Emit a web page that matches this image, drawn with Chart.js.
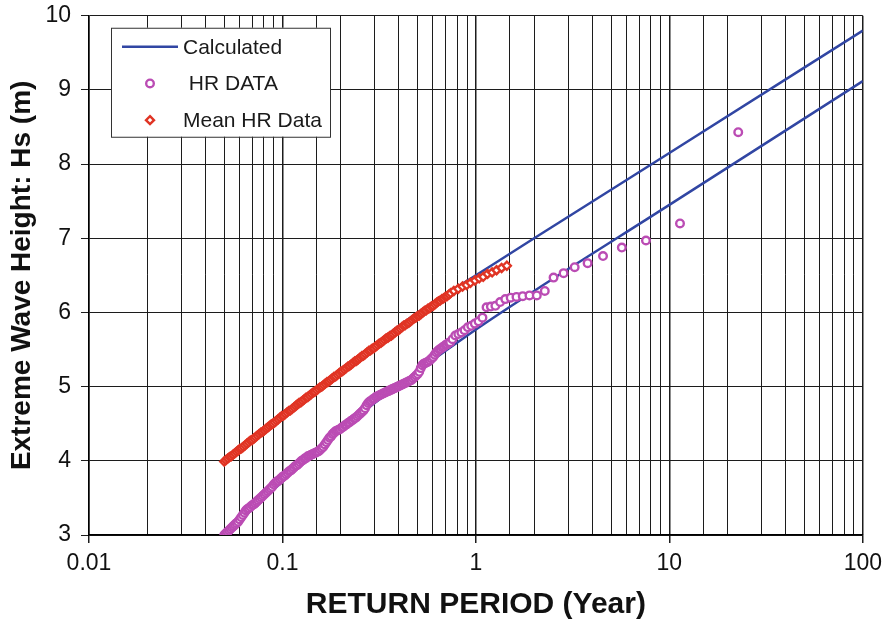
<!DOCTYPE html>
<html>
<head>
<meta charset="utf-8">
<script src="https://cdn.jsdelivr.net/npm/chart.js@4/dist/chart.umd.min.js"></script>
<style>
  html, body { margin: 0; padding: 0; background: #fff; }
  #wrap { width: 889px; height: 623px; }
</style>
</head>
<body>
<div id="wrap"><canvas id="grafico" width="889" height="623"></canvas></div>
<script>
// Etiquetas del eje X (solo décadas)
const xTickLabels = ["0.01", "0.1", "1", "10", "100"];

// Curvas calculadas (periodo de retorno en años, altura en m)
const calcPeriod = [0.05, 0.1, 0.2, 0.5, 1, 2, 10, 100];
const calcUpper  = [4.00, 4.60, 5.22, 6.00, 6.50, 7.00, 8.15, 9.80];
const calcLower  = [3.00, 3.72, 4.42, 5.21, 5.77, 6.29, 7.45, 9.12];

// HR DATA (círculos)
const hrPeriod = [
  0.0500, 0.0509, 0.0519, 0.0529, 0.0538, 0.0548, 0.0558, 0.0568, 0.0579, 0.0590,
  0.0601, 0.0612, 0.0624, 0.0636, 0.0647, 0.0659, 0.0671, 0.0683, 0.0697, 0.0710,
  0.0723, 0.0736, 0.0750, 0.0764, 0.0778, 0.0792, 0.0807, 0.0822, 0.0838, 0.0854,
  0.0869, 0.0885, 0.0902, 0.0919, 0.0935, 0.0952, 0.0971, 0.0989, 0.1007, 0.1026,
  0.1045, 0.1064, 0.1084, 0.1104, 0.1125, 0.1146, 0.1167, 0.1189, 0.1211, 0.1234,
  0.1256, 0.1279, 0.1303, 0.1327, 0.1352, 0.1377, 0.1403, 0.1429, 0.1455, 0.1482,
  0.1510, 0.1538, 0.1567, 0.1596, 0.1626, 0.1656, 0.1687, 0.1718, 0.1750, 0.1783,
  0.1816, 0.1850, 0.1884, 0.1919, 0.1954, 0.1990, 0.2028, 0.2066, 0.2104, 0.2143,
  0.2183, 0.2224, 0.2265, 0.2307, 0.2350, 0.2394, 0.2438, 0.2483, 0.2529, 0.2576,
  0.2624, 0.2673, 0.2723, 0.2774, 0.2825, 0.2878, 0.2931, 0.2986, 0.3041, 0.3098,
  0.3155, 0.3214, 0.3273, 0.3334, 0.3396, 0.3459, 0.3524, 0.3590, 0.3656, 0.3724,
  0.3793, 0.3864, 0.3936, 0.4009, 0.4083, 0.4159, 0.4236, 0.4315, 0.4395, 0.4477,
  0.4560, 0.4645, 0.4732, 0.4820, 0.4909, 0.5000, 0.5093, 0.5188, 0.5284, 0.5382,
  0.5483, 0.5585, 0.5689, 0.5795, 0.5902, 0.6012, 0.6124, 0.6238, 0.6353, 0.6471,
  0.6592, 0.6715, 0.6839, 0.6966, 0.7096, 0.7228, 0.7362,
  0.757, 0.783, 0.811, 0.841, 0.873, 0.908, 0.946, 0.987, 1.032, 1.081,
  1.135, 1.195, 1.261, 1.335, 1.419, 1.513, 1.621, 1.746, 1.892, 2.064,
  2.27, 2.52, 2.84, 3.24, 3.78, 4.54, 5.68, 7.57, 11.35, 22.7
];
const hrHeight = [
  3.00, 3.02, 3.04, 3.06, 3.08, 3.10, 3.12, 3.14, 3.16, 3.18,
  3.21, 3.24, 3.27, 3.30, 3.33, 3.35, 3.36, 3.38, 3.40, 3.41,
  3.43, 3.45, 3.47, 3.49, 3.51, 3.53, 3.55, 3.57, 3.59, 3.61,
  3.63, 3.65, 3.68, 3.70, 3.72, 3.73, 3.75, 3.77, 3.79, 3.80,
  3.82, 3.84, 3.86, 3.87, 3.89, 3.91, 3.93, 3.94, 3.96, 3.98,
  4.00, 4.01, 4.03, 4.04, 4.06, 4.07, 4.08, 4.09, 4.10, 4.11,
  4.12, 4.13, 4.15, 4.17, 4.19, 4.22, 4.25, 4.28, 4.31, 4.33,
  4.36, 4.38, 4.40, 4.41, 4.42, 4.43, 4.45, 4.46, 4.48, 4.49,
  4.51, 4.52, 4.54, 4.55, 4.57, 4.58, 4.60, 4.62, 4.64, 4.66,
  4.68, 4.71, 4.75, 4.78, 4.80, 4.81, 4.83, 4.84, 4.86, 4.87,
  4.88, 4.89, 4.90, 4.91, 4.92, 4.93, 4.94, 4.95, 4.96, 4.97,
  4.98, 4.99, 5.00, 5.01, 5.02, 5.03, 5.04, 5.05, 5.06, 5.07,
  5.08, 5.09, 5.11, 5.13, 5.15, 5.17, 5.20, 5.25, 5.29, 5.31,
  5.32, 5.33, 5.34, 5.36, 5.38, 5.40, 5.43, 5.46, 5.48, 5.50,
  5.51, 5.53, 5.54, 5.56, 5.57, 5.59, 5.60,
  5.64, 5.69, 5.71, 5.73, 5.76, 5.80, 5.82, 5.85, 5.88, 5.93,
  6.07, 6.08, 6.09, 6.14, 6.18, 6.20, 6.21, 6.22, 6.23, 6.23,
  6.29, 6.47, 6.53, 6.61, 6.665, 6.76, 6.875, 6.97, 7.20, 8.43
];

// Mean HR Data (rombos)
const meanPeriod = [
  0.0500, 0.0510, 0.0521, 0.0532, 0.0543, 0.0554, 0.0566, 0.0578, 0.0590, 0.0602,
  0.0615, 0.0628, 0.0641, 0.0654, 0.0668, 0.0682, 0.0697, 0.0712, 0.0726, 0.0741,
  0.0757, 0.0773, 0.0789, 0.0805, 0.0822, 0.0839, 0.0857, 0.0875, 0.0893, 0.0912,
  0.0931, 0.0950, 0.0970, 0.0990, 0.1012, 0.1033, 0.1054, 0.1076, 0.1099, 0.1122,
  0.1146, 0.1170, 0.1194, 0.1219, 0.1245, 0.1271, 0.1297, 0.1324, 0.1352, 0.1380,
  0.1409, 0.1438, 0.1469, 0.1500, 0.1531, 0.1563, 0.1596, 0.1629, 0.1663, 0.1698,
  0.1734, 0.1770, 0.1807, 0.1845, 0.1884, 0.1923, 0.1963, 0.2004, 0.2046, 0.2089,
  0.2133, 0.2178, 0.2223, 0.2269, 0.2317, 0.2365, 0.2415, 0.2465, 0.2518, 0.2571,
  0.2624, 0.2679, 0.2735, 0.2792, 0.2851, 0.2911, 0.2972, 0.3034, 0.3097, 0.3162,
  0.3228, 0.3295, 0.3365, 0.3435, 0.3508, 0.3581, 0.3656, 0.3732, 0.3811, 0.3891,
  0.3972, 0.4055, 0.4140, 0.4227, 0.4315, 0.4405, 0.4498, 0.4592, 0.4688, 0.4786,
  0.4887, 0.4989, 0.5093, 0.5199, 0.5309, 0.5420, 0.5534, 0.5650, 0.5768, 0.5889,
  0.6012, 0.6138, 0.6266, 0.6397, 0.6531, 0.6668, 0.6808, 0.6950, 0.7096, 0.7244,
  0.7396,
  0.7691, 0.8110, 0.8531, 0.8954, 0.9376, 0.9886, 1.040, 1.091, 1.148, 1.213,
  1.279, 1.358, 1.445
];
const meanHeight = [
  3.99, 4.01, 4.03, 4.05, 4.06, 4.08, 4.10, 4.12, 4.14, 4.16,
  4.17, 4.19, 4.21, 4.23, 4.25, 4.27, 4.28, 4.30, 4.32, 4.34,
  4.36, 4.38, 4.39, 4.41, 4.43, 4.45, 4.47, 4.49, 4.50, 4.52,
  4.54, 4.56, 4.58, 4.60, 4.61, 4.63, 4.65, 4.67, 4.68, 4.70,
  4.72, 4.74, 4.76, 4.78, 4.79, 4.81, 4.83, 4.85, 4.86, 4.88,
  4.90, 4.92, 4.93, 4.95, 4.97, 4.99, 5.00, 5.02, 5.04, 5.06,
  5.07, 5.09, 5.11, 5.13, 5.14, 5.16, 5.18, 5.20, 5.21, 5.23,
  5.25, 5.27, 5.28, 5.30, 5.32, 5.34, 5.35, 5.37, 5.39, 5.41,
  5.42, 5.44, 5.46, 5.48, 5.49, 5.51, 5.52, 5.54, 5.56, 5.58,
  5.59, 5.61, 5.63, 5.65, 5.66, 5.68, 5.69, 5.71, 5.73, 5.75,
  5.76, 5.78, 5.80, 5.82, 5.83, 5.85, 5.86, 5.88, 5.90, 5.92,
  5.93, 5.95, 5.96, 5.98, 6.00, 6.02, 6.03, 6.05, 6.06, 6.08,
  6.09, 6.11, 6.13, 6.15, 6.16, 6.18, 6.19, 6.21, 6.22, 6.24,
  6.26,
  6.29, 6.32, 6.35, 6.37, 6.40, 6.43, 6.46, 6.48, 6.52, 6.54,
  6.57, 6.60, 6.63
];

const FUENTE = "'Liberation Sans', Arial, Helvetica, sans-serif";
const AZUL = "#3146a3";
const MORADO = "#bb4cb4";
const ROJO = "#e03424";
const REJILLA = "#1c1c1c";

function aPuntos(xs, ys) {
  return xs.map((x, i) => ({ x: x, y: ys[i] }));
}

function esDecada(v) {
  const l = Math.log10(v);
  return Math.abs(l - Math.round(l)) < 1e-6;
}

// Leyenda dibujada a mano dentro del área del gráfico
const leyendaCaja = {
  id: "leyendaCaja",
  afterDatasetsDraw(chart) {
    const ctx = chart.ctx;
    const a = chart.chartArea;
    const x0 = a.left + 22, y0 = a.top + 12, w = 219, h = 109;
    ctx.save();
    ctx.fillStyle = "#fff";
    ctx.fillRect(x0, y0, w, h);
    ctx.strokeStyle = "#333";
    ctx.lineWidth = 1;
    ctx.strokeRect(x0 + 0.5, y0 + 0.5, w, h);

    const vistos = [];
    chart.data.datasets.forEach(ds => {
      if (!vistos.find(d => d.label === ds.label)) vistos.push(ds);
    });
    const orden = ["Calculated", " HR DATA", "Mean HR Data"];
    ctx.font = "21px " + FUENTE;
    ctx.textBaseline = "middle";
    orden.forEach((lab, i) => {
      const ds = vistos.find(d => d.label === lab);
      const yy = y0 + 19 + i * 36.7;
      if (ds.showLine) {
        ctx.strokeStyle = ds.borderColor;
        ctx.lineWidth = ds.borderWidth;
        ctx.beginPath();
        ctx.moveTo(x0 + 11, yy);
        ctx.lineTo(x0 + 67, yy);
        ctx.stroke();
      } else {
        ctx.strokeStyle = ds.borderColor;
        ctx.fillStyle = "#fff";
        ctx.lineWidth = ds.pointBorderWidth;
        ctx.beginPath();
        if (ds.pointStyle === "rectRot") {
          const r = ds.pointRadius;
          ctx.moveTo(x0 + 39, yy - r);
          ctx.lineTo(x0 + 39 + r, yy);
          ctx.lineTo(x0 + 39, yy + r);
          ctx.lineTo(x0 + 39 - r, yy);
          ctx.closePath();
        } else {
          ctx.arc(x0 + 39, yy, ds.pointRadius, 0, Math.PI * 2);
        }
        ctx.fill();
        ctx.stroke();
      }
      ctx.fillStyle = "#1a1a1a";
      ctx.fillText(lab, x0 + 72, yy + 1);
    });
    ctx.restore();
  }
};

const ctx = document.getElementById("grafico").getContext("2d");

new Chart(ctx, {
  type: "scatter",
  data: {
    datasets: [
      {
        label: " HR DATA",
        data: aPuntos(hrPeriod, hrHeight),
        showLine: false,
        pointStyle: "circle",
        pointRadius: 3.8,
        pointBorderWidth: 2.4,
        borderColor: MORADO,
        backgroundColor: "#fff",
        order: 1
      },
      {
        label: "Mean HR Data",
        data: aPuntos(meanPeriod, meanHeight),
        showLine: false,
        pointStyle: "rectRot",
        pointRadius: 4,
        pointBorderWidth: 2.4,
        borderColor: ROJO,
        backgroundColor: "#fff",
        order: 2
      },
      {
        label: "Calculated",
        data: aPuntos(calcPeriod, calcUpper),
        showLine: true,
        borderColor: AZUL,
        borderWidth: 2.5,
        pointRadius: 0,
        cubicInterpolationMode: "monotone",
        order: 3
      },
      {
        label: "Calculated",
        data: aPuntos(calcPeriod, calcLower),
        showLine: true,
        borderColor: AZUL,
        borderWidth: 2.5,
        pointRadius: 0,
        cubicInterpolationMode: "monotone",
        order: 4
      }
    ]
  },
  options: {
    responsive: false,
    animation: false,
    devicePixelRatio: 1,
    layout: { padding: { top: 14, right: 26, left: 0, bottom: 0 } },
    plugins: {
      legend: { display: false },
      tooltip: { enabled: false }
    },
    scales: {
      x: {
        type: "logarithmic",
        min: 0.01,
        max: 100,
        ticks: {
          autoSkip: false,
          maxRotation: 0,
          minRotation: 0,
          padding: 7,
          color: "#111",
          font: { family: FUENTE, size: 23 },
          callback: (v) => esDecada(v) ? xTickLabels[Math.round(Math.log10(v)) + 2] : ""
        },
        grid: {
          color: REJILLA,
          lineWidth: (c) => (c.tick && esDecada(c.tick.value)) ? 1.5 : 1,
          tickLength: 8,
          tickColor: (c) => (c.tick && esDecada(c.tick.value)) ? REJILLA : "rgba(0,0,0,0)"
        },
        border: { color: "#000", width: 1.5 },
        title: {
          display: true,
          text: "RETURN PERIOD (Year)",
          color: "#111",
          font: { family: FUENTE, size: 30, weight: "bold" },
          padding: { top: 2, bottom: 0 }
        },
        afterFit: (scale) => { scale.height = 88; }
      },
      y: {
        min: 3,
        max: 10,
        ticks: {
          stepSize: 1,
          padding: 10,
          color: "#111",
          font: { family: FUENTE, size: 23, lineHeight: 0.5 }
        },
        grid: { color: REJILLA, lineWidth: 1, tickLength: 8 },
        border: { color: "#000", width: 1.5 },
        title: {
          display: true,
          text: "Extreme Wave Height: Hs (m)",
          color: "#111",
          font: { family: FUENTE, size: 28, weight: "bold" },
          padding: { top: 5, bottom: 0 }
        },
        afterFit: (scale) => { scale.width = 89; }
      }
    }
  },
  plugins: [leyendaCaja]
});
</script>
</body>
</html>
